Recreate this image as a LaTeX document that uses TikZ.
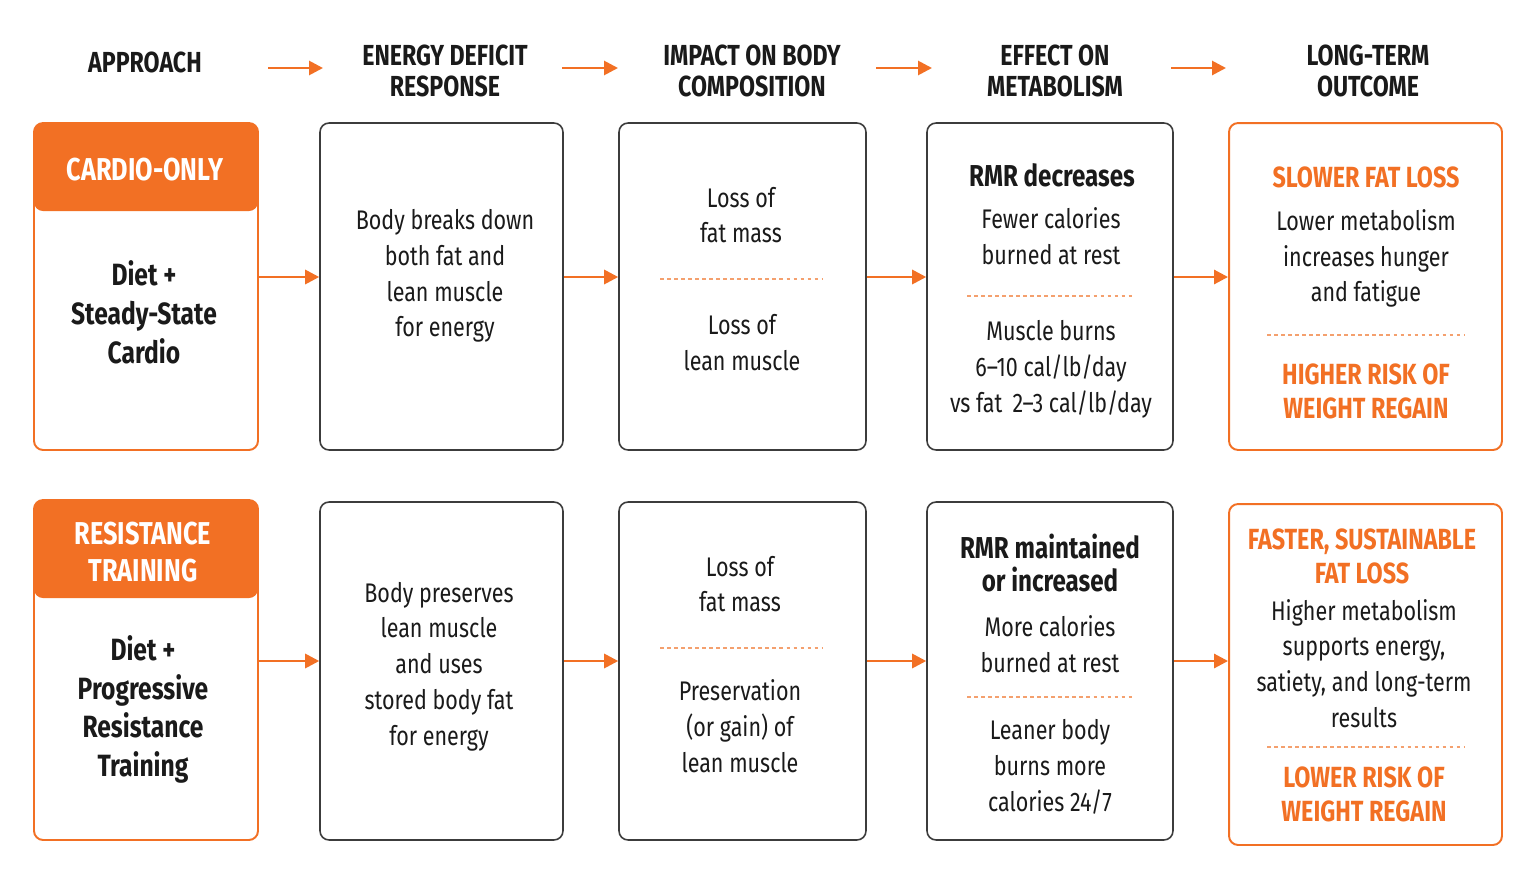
\documentclass[tikz,border=0pt]{standalone}
\usepackage{fontspec}
\setmainfont{Fira Sans}[FakeStretch=0.8]
\usetikzlibrary{arrows.meta}
\definecolor{accent}{RGB}{242,112,36}
\definecolor{ink}{RGB}{26,26,26}
\definecolor{frame}{RGB}{60,60,60}
\definecolor{dashcol}{RGB}{244,160,110}
\tikzset{
	box/.style={draw=frame, line width=0.9pt, rounded corners=0.18cm, fill=white, inner sep=0pt},
	hotbox/.style={box, draw=accent, line width=1.1pt},
	body/.style={align=center, text=ink, inner sep=0pt, font=\fontsize{15.3}{20.4}\selectfont},
	title/.style={align=center, text=ink, inner sep=0pt, font=\fontsize{17.5}{22.1}\selectfont\bfseries},
	colhead/.style={align=center, text=ink, inner sep=0pt, font=\fontsize{16.5}{18.1}\selectfont\bfseries},
	bandtext/.style={align=center, text=white, inner sep=0pt, font=\fontsize{18}{21.5}\selectfont\bfseries},
	keyline/.style={align=center, text=ink, inner sep=0pt, font=\fontsize{17.2}{19.3}\selectfont\bfseries},
	hotline/.style={align=center, text=accent, inner sep=0pt, font=\fontsize{16.6}{19.3}\selectfont\bfseries},
	flow/.style={draw=accent, line width=1.6pt, -{Triangle[length=0.28cm,width=0.28cm]}},
	sep/.style={draw=dashcol, line width=0.7pt, dash pattern=on 2pt off 2pt},
	band/.style={path picture={\fill[accent] (path picture bounding box.north west) rectangle ([yshift=-#1]path picture bounding box.north east);}}
}

\begin{document}
\begin{tikzpicture}[x=0.02cm, y=-0.02cm]
	%%%%% START %%%%%
	\path[fill=white, use as bounding box] (0,0) rectangle (1536,886);
	
	% column heads
	\node[colhead] (hA) at (145,62) {APPROACH};
	\node[colhead] (hB) at (445,71) {ENERGY DEFICIT\\RESPONSE};
	\node[colhead] (hC) at (752,71) {IMPACT ON BODY\\COMPOSITION};
	\node[colhead] (hD) at (1055,71) {EFFECT ON\\METABOLISM};
	\node[colhead] (hE) at (1368,71) {LONG-TERM\\OUTCOME};
	
	\coordinate (g1s) at (268,68); \coordinate (g1e) at (323,68);
	\coordinate (g2s) at (562,68); \coordinate (g2e) at (618,68);
	\coordinate (g3s) at (876,68); \coordinate (g3e) at (932,68);
	\coordinate (g4s) at (1171,68); \coordinate (g4e) at (1226,68);
	\draw[flow] (g1s) -- (g1e);
	\draw[flow] (g2s) -- (g2e);
	\draw[flow] (g3s) -- (g3e);
	\draw[flow] (g4s) -- (g4e);
	
	% cardio row
	\node[hotbox, band=1.76cm, minimum width=4.48cm, minimum height=6.54cm] (a1) at (146,286.5) {};
	\node[box, minimum width=4.86cm, minimum height=6.54cm] (b1) at (441.5,286.5) {};
	\node[box, minimum width=4.94cm, minimum height=6.54cm] (c1) at (742.5,286.5) {};
	\node[box, minimum width=4.92cm, minimum height=6.54cm] (d1) at (1050,286.5) {};
	\node[hotbox, minimum width=5.46cm, minimum height=6.54cm] (e1) at (1365.5,286.5) {};
	
	\node[bandtext] (a1h) at (145,170) {CARDIO-ONLY};
	\node[title] (a1t) at (144,312) {Diet +\\Steady-State\\Cardio};
	\node[body] (b1t) at (445,276) {Body breaks down\\both fat and\\lean muscle\\for energy};
	\node[body] (c1t) at (741,215) {Loss of\\fat mass};
	\draw[sep] (660,279) -- (823,279);
	\node[body] (c1b) at (742,342.5) {Loss of\\lean muscle};
	\node[keyline] (d1h) at (1052,175) {RMR decreases};
	\node[body] (d1t) at (1051,236) {Fewer calories\\burned at rest};
	\draw[sep] (967,296) -- (1135,296);
	\node[body] (d1b) at (1051,369) {Muscle burns\\6--10 cal/lb/day\\vs fat\, 2--3 cal/lb/day};
	\node[hotline] (e1h) at (1366,177) {SLOWER FAT LOSS};
	\node[body] (e1t) at (1366,258.5) {Lower metabolism\\increases hunger\\and fatigue};
	\draw[sep] (1267,335) -- (1465,335);
	\node[hotline] (e1b) at (1366,391) {HIGHER RISK OF\\WEIGHT REGAIN};
	
	\draw[flow] ([yshift=0.19cm]a1.east) -- ([yshift=0.19cm]b1.west);
	\draw[flow] ([yshift=0.19cm]b1.east) -- ([yshift=0.19cm]c1.west);
	\draw[flow] ([yshift=0.19cm]c1.east) -- ([yshift=0.19cm]d1.west);
	\draw[flow] ([yshift=0.19cm]d1.east) -- ([yshift=0.19cm]e1.west);
	
	% resistance row
	\node[hotbox, band=1.96cm, minimum width=4.48cm, minimum height=6.8cm] (a2) at (146,670) {};
	\node[box, minimum width=4.86cm, minimum height=6.76cm] (b2) at (441.5,671) {};
	\node[box, minimum width=4.94cm, minimum height=6.76cm] (c2) at (742.5,671) {};
	\node[box, minimum width=4.92cm, minimum height=6.76cm] (d2) at (1050,671) {};
	\node[hotbox, minimum width=5.46cm, minimum height=6.82cm] (e2) at (1365.5,674.5) {};
	
	\node[bandtext] (a2h) at (143,552) {RESISTANCE\\TRAINING};
	\node[title] (a2t) at (143,709.5) {Diet +\\Progressive\\Resistance\\Training};
	\node[body] (b2t) at (439,666.5) {Body preserves\\lean muscle\\and uses\\stored body fat\\for energy};
	\node[body] (c2t) at (740,584) {Loss of\\fat mass};
	\draw[sep] (660,648) -- (823,648);
	\node[body] (c2b) at (740,726.5) {Preservation\\(or gain) of\\lean muscle};
	\node[keyline] (d2h) at (1050,563) {RMR maintained\\or increased};
	\node[body] (d2t) at (1050,644) {More calories\\burned at rest};
	\draw[sep] (967,697) -- (1135,697);
	\node[body] (d2b) at (1050,767) {Leaner body\\burns more\\calories 24/7};
	\node[hotline] (e2h) at (1362,556) {FASTER, SUSTAINABLE\\FAT LOSS};
	\node[body] (e2t) at (1364,663.5) {Higher metabolism\\supports energy,\\satiety, and long-term\\results};
	\draw[sep] (1267,747) -- (1465,747);
	\node[hotline] (e2b) at (1364,794) {LOWER RISK OF\\WEIGHT REGAIN};
	
	\draw[flow] ([yshift=0.2cm]b2.west -| a2.east) -- ([yshift=0.2cm]b2.west);
	\draw[flow] ([yshift=0.2cm]b2.east) -- ([yshift=0.2cm]c2.west);
	\draw[flow] ([yshift=0.2cm]c2.east) -- ([yshift=0.2cm]d2.west);
	\draw[flow] ([yshift=0.2cm]d2.east) -- ([yshift=0.2cm]d2.east -| e2.west);
	%%%%% END %%%%%
\end{tikzpicture}
\end{document}
